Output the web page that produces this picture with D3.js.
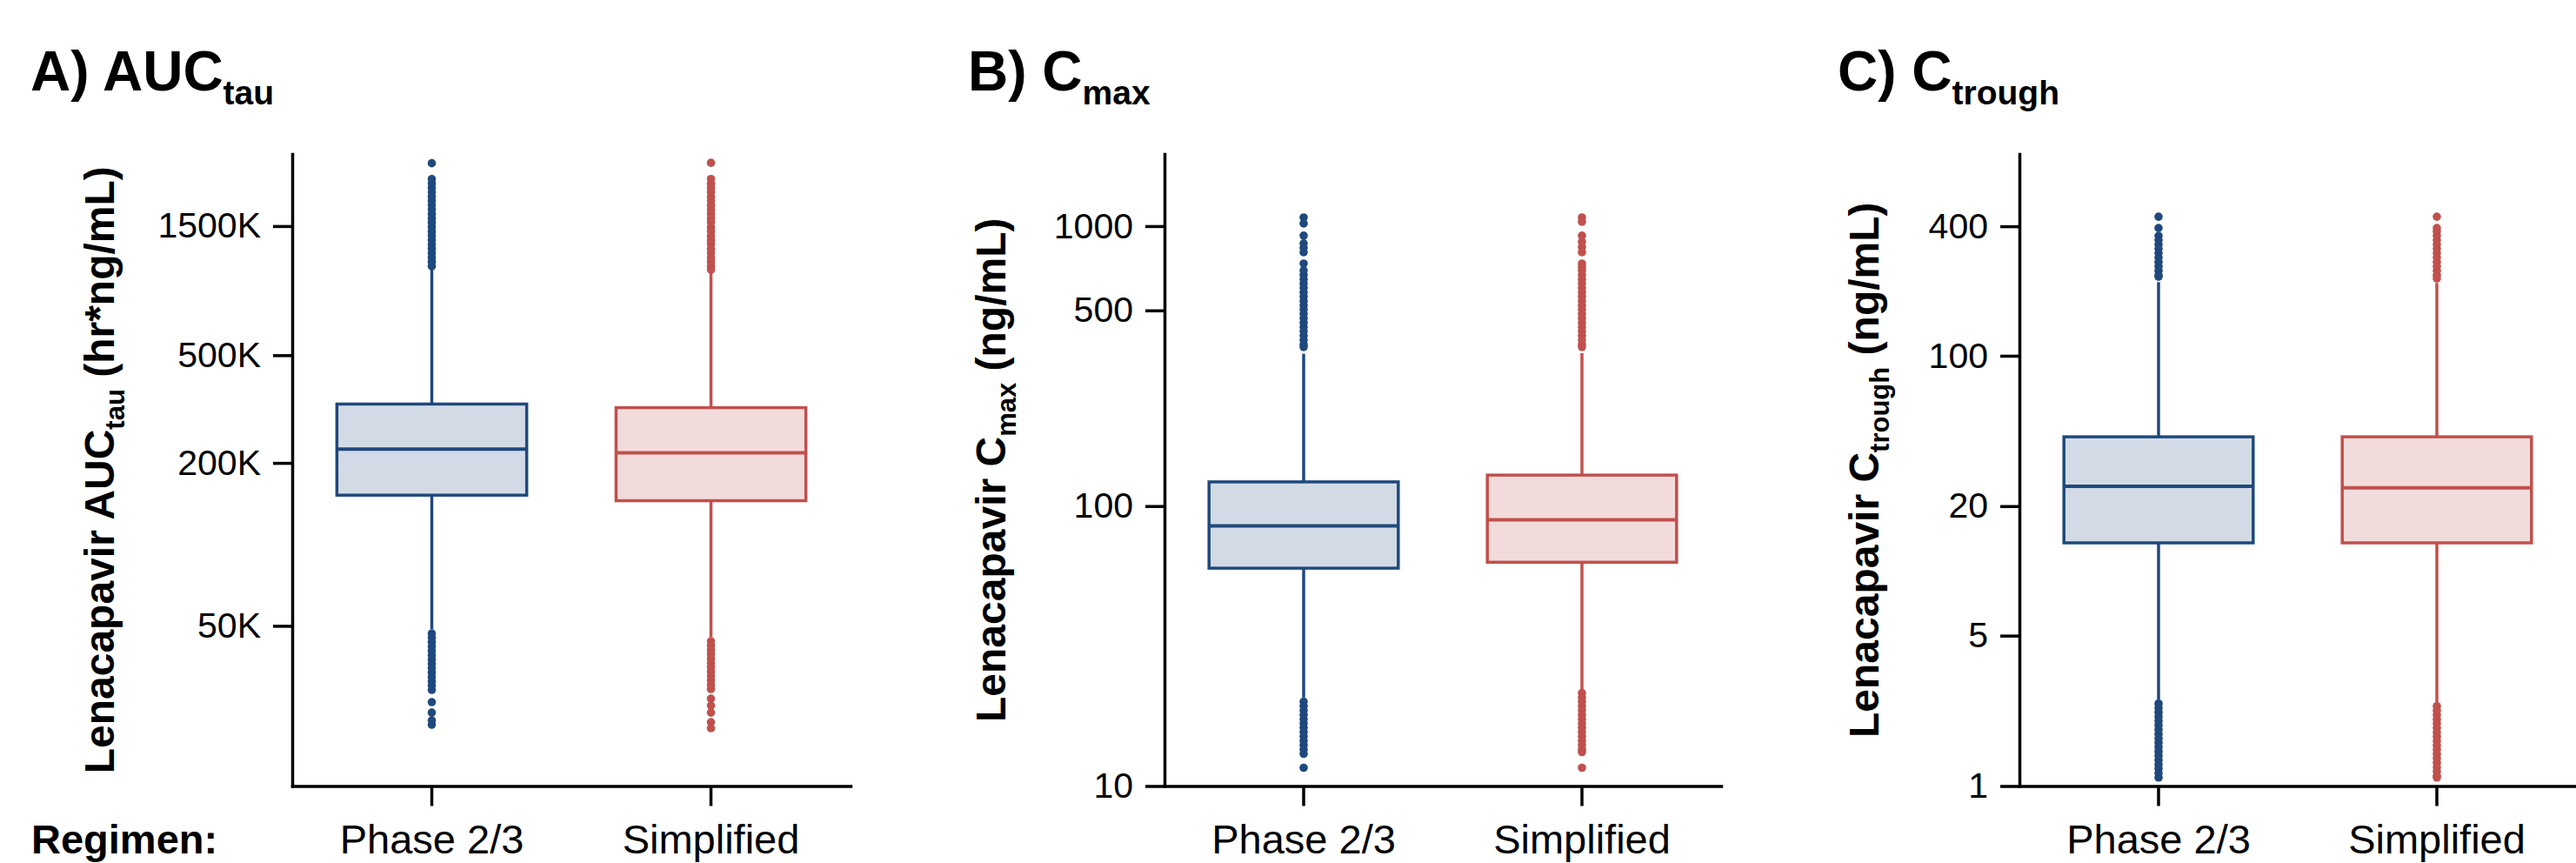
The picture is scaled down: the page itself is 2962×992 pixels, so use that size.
<meta charset="utf-8">
<style>body { margin: 0; background: #fff; } svg { display: block; }</style>
<script src="https://d3js.org/d3.v7.min.js"></script>
<svg id="chart" width="2962" height="992"></svg>
<script>
// categories
const regimens = ["Phase 2/3", "Simplified"];

// A) AUCtau (hr*ng/mL)
const aucQ1 = [152000, 145000];
const aucMedian = [225000, 218000];
const aucQ3 = [330000, 320000];
const aucWhiskerLow = [48700, 45500];
const aucWhiskerHigh = [1040000, 1013000];
const aucOutliersPhase = [2560000, 2237000, 2156000, 2078000, 2002000, 1929000, 1859000, 1792000, 1727000, 1663000,
  1603000, 1545000, 1489000, 1434000, 1382000, 1332000, 1284000, 1237000, 1192000, 1149000, 1107000, 1067000,
  46900, 45200, 43550, 41980, 40450, 38980, 37560, 36190, 34880, 33610, 32390, 31210, 30080, 28990,
  26140, 23910, 22370, 21560];
const aucOutliersSimplified = [2570000, 2240000, 2150000, 2075000, 2005000, 1925000, 1860000, 1790000, 1725000, 1665000,
  1600000, 1548000, 1487000, 1436000, 1380000, 1330000, 1286000, 1235000, 1193000, 1147000, 1108000, 1068000, 1036000,
  43870, 42290, 40750, 39270, 37840, 36470, 35140, 33860, 32630, 31450, 30300, 29200,
  26920, 25370, 23910, 22040, 20930];
const aucTicks = [50000, 200000, 500000, 1500000];
const aucDomain = [12800, 2770000];

// B) Cmax (ng/mL)
const cmaxQ1 = [60.0, 63.0];
const cmaxMedian = [85.0, 89.3];
const cmaxQ3 = [122, 129];
const cmaxWhiskerLow = [20.7, 21.8];
const cmaxWhiskerHigh = [350, 352];
const cmaxOutliersPhase = [1074, 1022, 925, 867, 837, 807, 735, 694.5, 670, 646.5, 623.7, 601.8, 580.7, 560.2,
  540.5, 521.5, 503.3, 485.6, 468.5, 452.0, 436.3, 420.9, 406.1, 391.9, 378.0, 370.1,
  20.01, 19.31, 18.63, 17.97, 17.34, 16.73, 16.15, 15.58, 15.03, 14.50, 14.00, 13.50, 13.03, 11.62];
const cmaxOutliersSimplified = [1074, 1036, 925, 879, 842, 807, 735, 714.5, 694.5, 670, 646.5, 623.7, 601.8, 580.7,
  560.2, 540.5, 521.5, 503.3, 485.6, 468.5, 452.0, 436.3, 420.9, 406.1, 391.9, 378.0, 370.1,
  21.49, 20.74, 20.01, 19.31, 18.63, 17.97, 17.34, 16.73, 16.15, 15.58, 15.03, 14.50, 14.00, 13.50, 13.22, 11.62];
const cmaxTicks = [10, 100, 500, 1000];
const cmaxDomain = [10, 1810];

// C) Ctrough (ng/mL)
const ctroughQ1 = [13.5, 13.5];
const ctroughMedian = [24.7, 24.3];
const ctroughQ3 = [42.0, 42.0];
const ctroughWhiskerLow = [2.51, 2.44];
const ctroughWhiskerHigh = [220, 218];
const ctroughOutliersPhase = [443, 392.7, 361.0, 344.6, 328.9, 314.0, 299.7, 286.0, 272.9, 260.5, 248.6, 237.3, 233.0,
  2.418, 2.308, 2.203, 2.102, 2.007, 1.916, 1.829, 1.745, 1.666, 1.590, 1.518, 1.448, 1.382, 1.319, 1.259,
  1.202, 1.147, 1.095];
const ctroughOutliersSimplified = [443, 392.7, 378.3, 361.0, 344.6, 328.9, 314.0, 299.7, 286.0, 272.9, 260.5, 248.6,
  237.3, 228.7, 2.351, 2.244, 2.142, 2.044, 1.951, 1.863, 1.778, 1.696, 1.620, 1.546, 1.475, 1.408, 1.344,
  1.283, 1.224, 1.169, 1.115, 1.095];
const ctroughTicks = [1, 5, 20, 100, 400];
const ctroughDomain = [1, 867];

var colors = ["#1F497D", "#C0504D"];
var font = "'Liberation Sans', Arial, sans-serif";

var svg = d3.select("#chart")
    .style("font-family", font)
    .style("background", "#fff");

var yTop = 177, yBottom = 903.5;

var panels = [
  { x0: 336, w: 642, titleX: 35, labelX: 131, title: "A) AUC", titleSub: "tau",
    labelPre: "Lenacapavir AUC", labelSub: "tau", labelPost: " (hr*ng/mL)",
    domain: aucDomain, ticks: aucTicks, fmt: d => (d / 1000) + "K",
    q1: aucQ1, med: aucMedian, q3: aucQ3, wlo: aucWhiskerLow, whi: aucWhiskerHigh,
    outliers: [aucOutliersPhase, aucOutliersSimplified] },
  { x0: 1339, w: 640, titleX: 1113, labelX: 1156, title: "B) C", titleSub: "max",
    labelPre: "Lenacapavir C", labelSub: "max", labelPost: " (ng/mL)",
    domain: cmaxDomain, ticks: cmaxTicks, fmt: d => d,
    q1: cmaxQ1, med: cmaxMedian, q3: cmaxQ3, wlo: cmaxWhiskerLow, whi: cmaxWhiskerHigh,
    outliers: [cmaxOutliersPhase, cmaxOutliersSimplified] },
  { x0: 2322, w: 640, titleX: 2113, labelX: 2160, title: "C) C", titleSub: "trough",
    labelPre: "Lenacapavir C", labelSub: "trough", labelPost: " (ng/mL)",
    domain: ctroughDomain, ticks: ctroughTicks, fmt: d => d,
    q1: ctroughQ1, med: ctroughMedian, q3: ctroughQ3, wlo: ctroughWhiskerLow, whi: ctroughWhiskerHigh,
    outliers: [ctroughOutliersPhase, ctroughOutliersSimplified] }
];

panels.forEach(function(p) {
  var y = d3.scaleLog().domain(p.domain).range([yBottom, yTop]);
  var x = d3.scaleBand().domain(regimens).range([p.x0, p.x0 + p.w])
      .paddingInner(0.32).paddingOuter(0.16);

  // title
  var t = svg.append("text").attr("x", p.titleX).attr("y", 104)
      .style("font-size", "64px").style("font-weight", "bold");
  t.append("tspan").text(p.title);
  t.append("tspan").attr("dy", 16).style("font-size", "39px").text(p.titleSub);

  // y label
  var l = svg.append("text")
      .attr("transform", "translate(" + p.labelX + "," + (yTop + yBottom) / 2 + ") rotate(-90)")
      .attr("text-anchor", "middle")
      .style("font-size", "48px").style("font-weight", "bold");
  l.append("tspan").text(p.labelPre);
  l.append("tspan").attr("dy", 12).style("font-size", "31px").text(p.labelSub);
  l.append("tspan").attr("dy", -12).text(p.labelPost);

  // axes
  var yAxis = svg.append("g").attr("transform", "translate(" + p.x0 + ",0)")
      .call(d3.axisLeft(y).tickValues(p.ticks).tickFormat(p.fmt).tickSize(22).tickSizeOuter(0).tickPadding(14));
  var xAxis = svg.append("g").attr("transform", "translate(0," + yBottom + ")")
      .call(d3.axisBottom(x).tickSize(23).tickSizeOuter(0));

  [yAxis, xAxis].forEach(function(a) {
    a.select(".domain").attr("stroke", "#000").attr("stroke-width", 3.5).attr("stroke-linecap", "square");
    a.selectAll(".tick line").attr("stroke", "#000").attr("stroke-width", 3.5);
    a.selectAll("text").attr("fill", "#000").style("font-family", font);
  });
  yAxis.selectAll("text").style("font-size", "41px");
  xAxis.selectAll("text").style("font-size", "47px").attr("dy", null).attr("y", 77.5);

  // boxes
  regimens.forEach(function(r, i) {
    var cx = x(r) + x.bandwidth() / 2;
    var g = svg.append("g");
    g.append("line").attr("x1", cx).attr("x2", cx)
        .attr("y1", y(p.q3[i])).attr("y2", y(p.whi[i]))
        .attr("stroke", colors[i]).attr("stroke-width", 3.5);
    g.append("line").attr("x1", cx).attr("x2", cx)
        .attr("y1", y(p.q1[i])).attr("y2", y(p.wlo[i]))
        .attr("stroke", colors[i]).attr("stroke-width", 3.5);
    g.append("rect")
        .attr("x", x(r)).attr("width", x.bandwidth())
        .attr("y", y(p.q3[i])).attr("height", y(p.q1[i]) - y(p.q3[i]))
        .attr("fill", colors[i]).attr("fill-opacity", 0.2)
        .attr("stroke", colors[i]).attr("stroke-width", 3.5);
    g.append("line").attr("x1", x(r)).attr("x2", x(r) + x.bandwidth())
        .attr("y1", y(p.med[i])).attr("y2", y(p.med[i]))
        .attr("stroke", colors[i]).attr("stroke-width", 4);
    g.selectAll("circle").data(p.outliers[i]).enter().append("circle")
        .attr("cx", cx).attr("cy", d => y(d)).attr("r", 4.8)
        .attr("fill", colors[i]);
  });
});

svg.append("text").attr("x", 36).attr("y", 981)
    .style("font-size", "47px").style("font-weight", "bold").text("Regimen:");
</script>
